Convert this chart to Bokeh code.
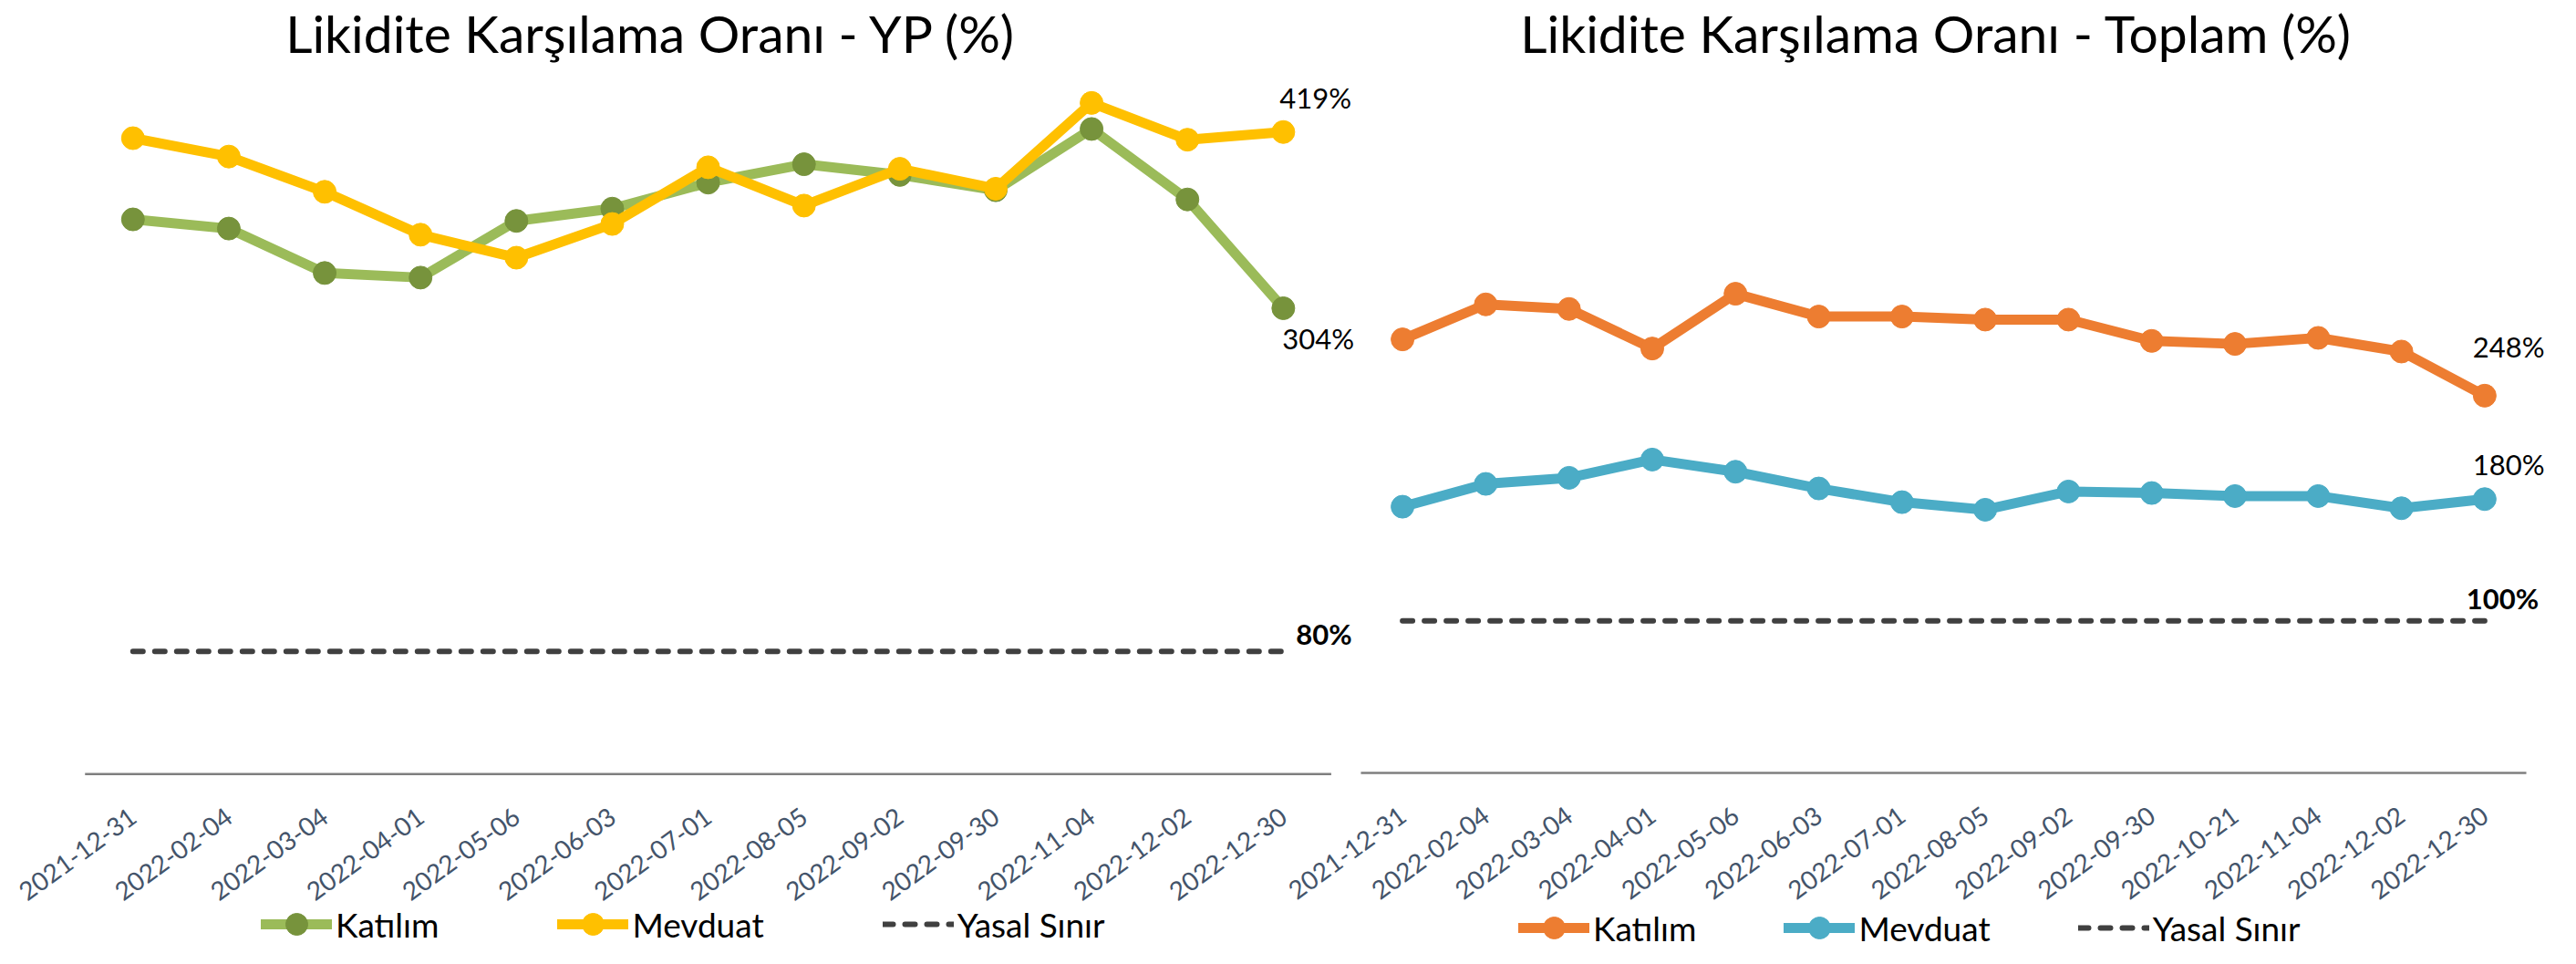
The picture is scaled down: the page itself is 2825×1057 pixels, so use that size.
import math
from bokeh.plotting import figure
from bokeh.models import Range1d, LinearAxis, FixedTicker, Legend, LegendItem, Label
from bokeh.embed import file_html
from bokeh.resources import INLINE

# ---------------- data ----------------
dates_yp = ["2021-12-31", "2022-02-04", "2022-03-04", "2022-04-01", "2022-05-06",
            "2022-06-03", "2022-07-01", "2022-08-05", "2022-09-02", "2022-09-30",
            "2022-11-04", "2022-12-02", "2022-12-30"]
katilim_yp = [362, 356, 327, 324, 361, 369, 386, 398, 391, 381, 421, 375, 304]
mevduat_yp = [415, 403, 380, 352, 337, 359, 396, 371, 395, 382, 438, 414, 419]
yasal_yp = [80, 80, 80, 80, 80, 80, 80, 80, 80, 80, 80, 80, 80]

dates_top = ["2021-12-31", "2022-02-04", "2022-03-04", "2022-04-01", "2022-05-06",
             "2022-06-03", "2022-07-01", "2022-08-05", "2022-09-02", "2022-09-30",
             "2022-10-21", "2022-11-04", "2022-12-02", "2022-12-30"]
katilim_top = [285, 308, 305, 279, 315, 300, 300, 298, 298, 284, 282, 286, 277, 248]
mevduat_top = [175, 190, 194, 206, 198, 187, 178, 173, 185, 184, 182, 182, 174, 180]
yasal_top = [100, 100, 100, 100, 100, 100, 100, 100, 100, 100, 100, 100, 100, 100]

title_yp = "Likidite Karşılama Oranı - YP (%)"
title_top = "Likidite Karşılama Oranı - Toplam (%)"
series_names = ["Katılım", "Mevduat", "Yasal Sınır"]

# ---------------- layout constants (canvas px) ----------------
W, H = 2817, 1049
FONT = "Lato"
# category 0 centre, px per category, zero line y, px per %
L_X0, L_DX, L_Y0, L_DY = 145.3, 105.13, 848.2, 1.68
R_X0, R_DX, R_Y0, R_DY = 1537.6, 91.29, 847.0, 1.668
BASE_FIX = 0.38  # label baseline correction (fraction of font size)


def xr(x0, dx):
    return Range1d(-x0 / dx, (W - x0) / dx)


def yr(y0, dy):
    return Range1d((y0 - H) / dy, y0 / dy)


p = figure(width=W, height=H, x_range=xr(L_X0, L_DX), y_range=yr(L_Y0, L_DY),
           x_axis_type=None, y_axis_type=None, toolbar_location=None,
           output_backend="svg", min_border=0, outline_line_color=None)
p.extra_x_ranges = {"r": xr(R_X0, R_DX)}
p.extra_y_ranges = {"ry": yr(R_Y0, R_DY)}
p.background_fill_color = "white"
p.border_fill_color = "white"

GREEN_L, GREEN_M = "#9BBB59", "#77933C"
GOLD = "#FFC000"
ORANGE = "#ED7D31"
TEAL = "#4BACC6"
DASH = "#404040"
AXIS_GREY = "#7F7F7F"
TICK_COL = "#44546A"


def make_axis(dates, **kw):
    return LinearAxis(ticker=FixedTicker(ticks=list(range(len(dates))), minor_ticks=[]),
                      major_label_overrides={i: d for i, d in enumerate(dates)},
                      fixed_location=0, axis_line_color=None,
                      major_tick_line_color=None, minor_tick_line_color=None,
                      major_label_orientation=math.radians(36),
                      major_label_text_font=FONT, major_label_text_font_size="28px",
                      major_label_text_color=TICK_COL, major_label_standoff=37, **kw)


p.add_layout(make_axis(dates_yp), "below")
p.add_layout(make_axis(dates_top, x_range_name="r", y_range_name="ry"), "below")

# category axis lines
p.segment(x0=[-0.5], x1=[len(dates_yp) - 0.5], y0=[0], y1=[0],
          line_color=AXIS_GREY, line_width=2.5)
p.segment(x0=[-0.5], x1=[len(dates_top) - 0.5], y0=[0], y1=[0],
          line_color=AXIS_GREY, line_width=2.5, x_range_name="r", y_range_name="ry")

LW, MS = 11, 25


def series(xs, ys, lc, mc, **kw):
    l = p.line(xs, ys, line_color=lc, line_width=LW, line_join="round", line_cap="round", **kw)
    s = p.scatter(xs, ys, size=MS, fill_color=mc, line_color=mc, **kw)
    return [l, s]


xl = list(range(len(dates_yp)))
xrr = list(range(len(dates_top)))

r_kl = series(xl, katilim_yp, GREEN_L, GREEN_M)
r_ml = series(xl, mevduat_yp, GOLD, GOLD)
r_yl = p.line(xl, yasal_yp, line_color=DASH, line_width=6, line_dash="11 13", line_cap="round")

r_kr = series(xrr, katilim_top, ORANGE, ORANGE, x_range_name="r", y_range_name="ry")
r_mr = series(xrr, mevduat_top, TEAL, TEAL, x_range_name="r", y_range_name="ry")
r_yr = p.line(xrr, yasal_top, line_color=DASH, line_width=6, line_dash="11 13",
              line_cap="round", x_range_name="r", y_range_name="ry")


def add_text(text, x, y, size, rng=False, bold=False, align="left", xo=0, yo=0):
    kw = dict(x_range_name="r", y_range_name="ry") if rng else {}
    p.add_layout(Label(x=x, y=y, text=text, text_font=FONT, text_font_size=f"{size}px",
                       text_font_style="bold" if bold else "normal",
                       text_color="black", text_align=align, text_baseline="alphabetic",
                       x_offset=xo, y_offset=yo + BASE_FIX * size, **kw))


# ---------------- titles ----------------
add_text(title_yp, (714 - L_X0) / L_DX, (L_Y0 - 57) / L_DY, 57, align="center")
add_text(title_top, (2123 - R_X0) / R_DX, (R_Y0 - 57) / R_DY, 57, rng=True, align="center")

# ---------------- end-of-series labels ----------------
li, ri = len(dates_yp) - 1, len(dates_top) - 1
add_text(f"{mevduat_yp[li]}%", li, mevduat_yp[li], 31, xo=-4, yo=26)
add_text(f"{katilim_yp[li]}%", li, katilim_yp[li], 31, xo=-1, yo=-45)
add_text(f"{yasal_yp[li]}%", li, yasal_yp[li], 31, bold=True, xo=14, yo=8)
add_text(f"{katilim_top[ri]}%", ri, katilim_top[ri], 31, rng=True, xo=-13, yo=42)
add_text(f"{mevduat_top[ri]}%", ri, mevduat_top[ri], 31, rng=True, xo=-13, yo=26)
add_text(f"{yasal_top[ri]}%", ri, yasal_top[ri], 31, rng=True, bold=True, xo=-20, yo=13)


# ---------------- legends ----------------
def make_legend(rends, loc, spacing):
    items = [LegendItem(label=n, renderers=r) for n, r in zip(series_names, rends)]
    return Legend(items=items, orientation="horizontal", location=loc,
                  glyph_width=78, glyph_height=60, label_standoff=4, spacing=spacing,
                  padding=0, margin=0, border_line_color=None, background_fill_alpha=0,
                  label_text_font=FONT, label_text_font_size="37px",
                  label_text_color="black", label_height=60)


p.add_layout(make_legend([r_kl, r_ml, [r_yl]], (286, 6), 130))
p.add_layout(make_legend([r_kr, r_mr, [r_yr]], (1665, 2), 96))

open("out.html", "w").write(file_html(p, INLINE))
